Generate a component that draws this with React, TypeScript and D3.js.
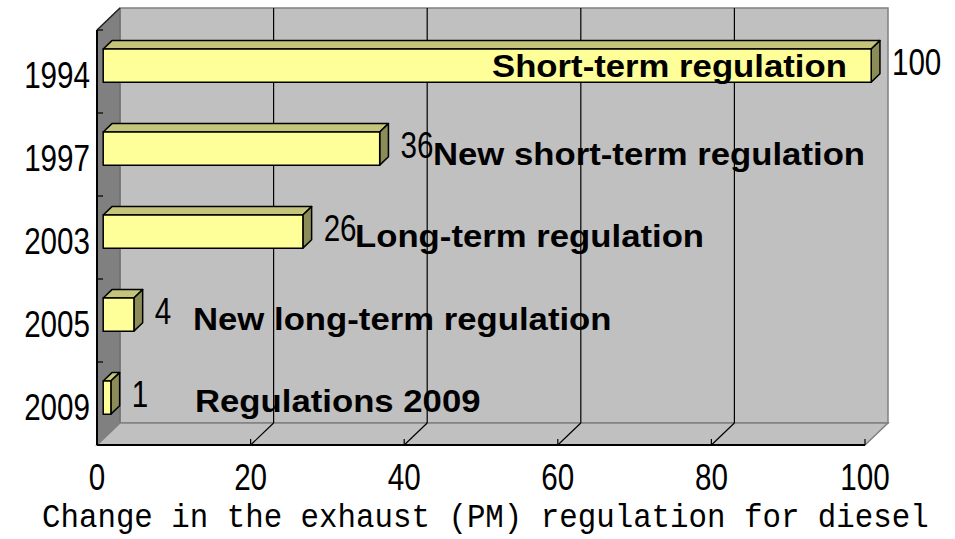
import React from "react";
import * as d3 from "d3";

const categories = ["1994", "1997", "2003", "2005", "2009"];
const values = [100, 36, 26, 4, 1];
const annotations = [
  "Short-term regulation",
  "New short-term regulation",
  "Long-term regulation",
  "New long-term regulation",
  "Regulations 2009",
];
const xTicks = [0, 20, 40, 60, 80, 100];
const axisTitle = "Change in the exhaust (PM) regulation for diesel";

// layout (pixels)
const W = 955, H = 539;
const X0 = 97, X1 = 865, YT = 30, YB = 445;
const DX = 23, DY = 22; // wall depth
const F1 = 0.27, F2 = 0.65; // bar depth fractions
const annX = [492, 433, 355, 193, 195];
const annDy = [5.5, 10.5, 9.5, 9.5, 8.5];
const annScale = 1.12;

export default function App() {
  const x = d3.scaleLinear().domain([0, 100]).range([X0, X1]);
  const y = d3.scaleBand<string>().domain(categories).range([YT, YB]);
  const bw = y.bandwidth();
  const barH = bw * 0.4;

  const poly = (pts: [number, number][]) => pts.map((p) => p.join(",")).join(" ");

  const bars = categories.map((c, i) => {
    const v = values[i];
    const cy = (y(c) as number) + bw / 2;
    const ft = cy - barH / 2 - F1 * DY;
    const fb = cy + barH / 2 - F1 * DY;
    const fx0 = x(0) + F1 * DX;
    const fx1 = x(v) + F1 * DX;
    const ddx = (F2 - F1) * DX, ddy = (F2 - F1) * DY;
    const front: [number, number][] = [[fx0, ft], [fx1, ft], [fx1, fb], [fx0, fb]];
    const top: [number, number][] = [[fx0, ft], [fx1, ft], [fx1 + ddx, ft - ddy], [fx0 + ddx, ft - ddy]];
    const side: [number, number][] = [[fx1, ft], [fx1 + ddx, ft - ddy], [fx1 + ddx, fb - ddy], [fx1, fb]];
    const midY = cy - ((F1 + F2) / 2) * DY;
    return { c, v, front, top, side, labX: fx1 + ddx + 12, labY: midY + 13.5, cy };
  });

  const numFont = "'Liberation Sans', Arial, sans-serif";

  return (
    <svg width={W} height={H} style={{ position: "absolute", left: 0, top: 0, background: "#fff" }}>
      {/* back wall */}
      <rect x={X0 + DX} y={YT - DY} width={X1 - X0} height={YB - YT} fill="#c0c0c0" stroke="#808080" strokeWidth={1.5} />
      {/* left wall */}
      <polygon points={poly([[X0, YT], [X0 + DX, YT - DY], [X0 + DX, YB - DY], [X0, YB]])} fill="#808080" stroke="#666" strokeWidth={1} />
      <line x1={X0} y1={YT} x2={X0 + DX} y2={YT - DY} stroke="#222" strokeWidth={1.5} />
      {/* floor */}
      <polygon points={poly([[X0, YB], [X0 + DX, YB - DY], [X1 + DX, YB - DY], [X1, YB]])} fill="#c0c0c0" stroke="#808080" strokeWidth={1.5} />
      {/* gridlines */}
      {xTicks.filter((t) => t > 0 && t < 100).map((t) => (
        <g key={t}>
          <line x1={x(t) + DX} y1={YT - DY} x2={x(t) + DX} y2={YB - DY} stroke="#000" strokeWidth={1.2} />
          <line x1={x(t) + DX} y1={YB - DY} x2={x(t)} y2={YB} stroke="#000" strokeWidth={1.2} />
        </g>
      ))}
      {/* axes */}
      <line x1={X0} y1={YB} x2={X1} y2={YB} stroke="#000" strokeWidth={2} />
      <line x1={X0} y1={YT} x2={X0} y2={YB} stroke="#000" strokeWidth={2} />
      {xTicks.map((t) => (
        <line key={"xt" + t} x1={x(t)} y1={YB} x2={x(t)} y2={YB - 6} stroke="#000" strokeWidth={1.2} />
      ))}
      {categories.concat(["end"]).map((c, i) => {
        const yy = YT + i * bw;
        return <line key={"yt" + i} x1={X0} y1={yy} x2={X0 + 6} y2={yy} stroke="#000" strokeWidth={1.2} />;
      })}
      {/* bars */}
      {bars.map((b) => (
        <g key={b.c} stroke="#000" strokeWidth={1.5} strokeLinejoin="round">
          <polygon points={poly(b.top)} fill="#c4c47a" />
          <polygon points={poly(b.side)} fill="#8c8c58" />
          <polygon points={poly(b.front)} fill="#ffff99" />
        </g>
      ))}
      {/* value labels */}
      {bars.map((b) => (
        <text key={"v" + b.c} transform={`translate(${b.labX},${b.labY}) scale(0.8,1)`} fontFamily={numFont} fontSize={37} fill="#000">
          {b.v}
        </text>
      ))}
      {/* annotations */}
      {bars.map((b, i) => (
        <text key={"a" + b.c} transform={`translate(${annX[i]},${b.cy + annDy[i]}) scale(${annScale},1)`} fontFamily="'Liberation Sans', Arial, sans-serif" fontWeight="bold" fontSize={31} fill="#000">
          {annotations[i]}
        </text>
      ))}
      {/* category labels */}
      {categories.map((c) => (
        <text key={"c" + c} transform={`translate(90,${(y(c) as number) + bw / 2 + 16.5}) scale(0.8,1)`} textAnchor="end" fontFamily={numFont} fontSize={37} fill="#000">
          {c}
        </text>
      ))}
      {/* x tick labels */}
      {xTicks.map((t) => (
        <text key={"xl" + t} transform={`translate(${x(t)},490) scale(0.8,1)`} textAnchor="middle" fontFamily={numFont} fontSize={37} fill="#000">
          {t}
        </text>
      ))}
      {/* axis title */}
      <text transform="translate(42,527) scale(1,1.1)" fontFamily="'Liberation Mono', 'DejaVu Sans Mono', monospace" fontSize={30.8} fill="#000">
        {axisTitle}
      </text>
    </svg>
  );
}
